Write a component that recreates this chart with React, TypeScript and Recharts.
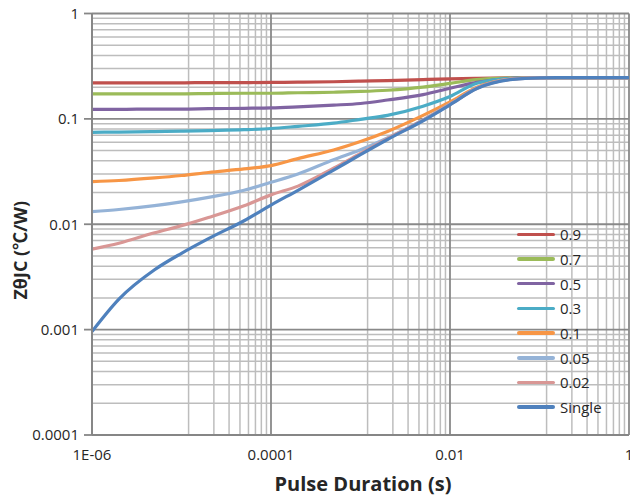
import React from "react";
import { LineChart, Line, XAxis, YAxis, CartesianGrid, Legend } from "recharts";

const durations = [1e-6, 2e-6, 5e-6, 1e-5, 2e-5, 5e-5, 1e-4, 2e-4, 5e-4, 1e-3, 2e-3, 5e-3, 1e-2, 2e-2, 5e-2, 0.1, 0.2, 0.5, 1];

const duty09 = [0.22, 0.22, 0.22, 0.22, 0.221, 0.221, 0.222, 0.223, 0.225, 0.228, 0.231, 0.236, 0.24, 0.243, 0.245, 0.246, 0.246, 0.246, 0.246];
const duty07 = [0.173, 0.173, 0.173, 0.173, 0.174, 0.175, 0.175, 0.177, 0.179, 0.182, 0.187, 0.2, 0.217, 0.236, 0.244, 0.246, 0.246, 0.246, 0.246];
const duty05 = [0.123, 0.123, 0.124, 0.124, 0.125, 0.126, 0.127, 0.13, 0.135, 0.14, 0.151, 0.17, 0.195, 0.222, 0.242, 0.246, 0.246, 0.246, 0.246];
const duty03 = [0.0746, 0.075, 0.0758, 0.0765, 0.0775, 0.079, 0.081, 0.085, 0.091, 0.099, 0.108, 0.132, 0.163, 0.218, 0.243, 0.246, 0.246, 0.246, 0.246];
const duty01 = [0.0254, 0.026, 0.0275, 0.029, 0.031, 0.0335, 0.036, 0.042, 0.0507, 0.061, 0.076, 0.108, 0.145, 0.2, 0.24, 0.246, 0.246, 0.246, 0.246];
const duty005 = [0.0132, 0.0138, 0.015, 0.0163, 0.018, 0.021, 0.025, 0.03, 0.041, 0.051, 0.066, 0.098, 0.138, 0.196, 0.238, 0.245, 0.246, 0.246, 0.246];
const duty002 = [0.0058, 0.0066, 0.0083, 0.0097, 0.0116, 0.015, 0.019, 0.023, 0.034, 0.047, 0.065, 0.097, 0.137, 0.195, 0.238, 0.245, 0.246, 0.246, 0.246];
const single = [0.00096, 0.00195, 0.0037, 0.0053, 0.0073, 0.0108, 0.0152, 0.021, 0.0326, 0.0458, 0.0637, 0.096, 0.136, 0.194, 0.237, 0.245, 0.246, 0.246, 0.246];

const seriesKeys = ["d09", "d07", "d05", "d03", "d01", "d005", "d002", "single"];
const seriesNames = ["0.9", "0.7", "0.5", "0.3", "0.1", "0.05", "0.02", "Single"];
const seriesColors = ["#C0504D", "#9BBB59", "#8064A2", "#4BACC6", "#F79646", "#95B3D7", "#D99795", "#4F81BD"];
const seriesValues = [duty09, duty07, duty05, duty03, duty01, duty005, duty002, single];

const xTicks = [1e-6, 1e-4, 1e-2, 1];
const yTicks = [1e-4, 1e-3, 1e-2, 1e-1, 1];

// excel style minor grid: log axis base 100 on x, base 10 on y
const xMinor = [1e-6, 1e-4, 1e-2].flatMap((b) => [12, 23, 34, 45, 56, 67, 78, 89].map((m) => b * m));
const yMinor = [1e-4, 1e-3, 1e-2, 1e-1].flatMap((b) => [2, 3, 4, 5, 6, 7, 8, 9].map((m) => b * m));

const data = durations.map((t, i) => {
  const row: Record<string, number> = { t };
  seriesKeys.forEach((k, s) => {
    row[k] = seriesValues[s][i];
  });
  return row;
});

const font = "'Open Sans', 'Noto Sans CJK SC', sans-serif";
const axisColor = "#868686";
const textColor = "#262626";

const fmtX = (v: number) => (v === 1e-6 ? "1E-06" : String(v));

const YTitle = (props: any) => {
  const vb = props.viewBox || { x: 0, y: 13.5, width: 92, height: 421.5 };
  const cx = vb.x + 20;
  const cy = vb.y + vb.height / 2 + 26;
  return (
    <text
      x={cx}
      y={cy}
      transform={`rotate(-90 ${cx} ${cy})`}
      textAnchor="middle"
      dominantBaseline="central"
      fontFamily={font}
      fontWeight={700}
      fontSize={18}
      fill={textColor}
    >
      ZθJC (℃/W)
    </text>
  );
};

const XTitle = (props: any) => {
  const vb = props.viewBox || { x: 92, y: 435, width: 537, height: 62 };
  return (
    <text
      x={vb.x + vb.width / 2 + 2.5}
      y={vb.y + 48}
      textAnchor="middle"
      dominantBaseline="central"
      fontFamily={font}
      fontWeight={700}
      fontSize={20}
      fill={textColor}
    >
      Pulse Duration (s)
    </text>
  );
};

const renderLegend = (props: any) => {
  const items = [...(props.payload || [])].sort(
    (a: any, b: any) => seriesNames.indexOf(a.value) - seriesNames.indexOf(b.value)
  );
  return (
    <div style={{ fontFamily: font, fontSize: 15, color: textColor }}>
      {items.map((p: any) => (
        <div key={p.value} style={{ display: "flex", alignItems: "center", height: 24.7 }}>
          <span style={{ display: "inline-block", width: 38, height: 3.5, background: p.color, marginRight: 5, borderRadius: 2 }} />
          <span>{p.value}</span>
        </div>
      ))}
    </div>
  );
};

export default function App() {
  return (
    <div style={{ position: "absolute", left: 0, top: 0, width: 630, height: 497, background: "#fff" }}>
      <LineChart width={630} height={497} data={data} margin={{ top: 13.5, right: 1, left: 0, bottom: 0 }}>
        <CartesianGrid horizontalValues={yMinor} verticalValues={xMinor} stroke="#bdbdbd" strokeWidth={1.5} />
        <CartesianGrid horizontalValues={yTicks} verticalValues={xTicks} stroke="#898989" strokeWidth={1.8} />
        <XAxis
          dataKey="t"
          type="number"
          scale="log"
          domain={[1e-6, 1]}
          allowDataOverflow
          ticks={xTicks}
          interval={0}
          tickFormatter={fmtX}
          height={62}
          tickLine={false}
          tickSize={0}
          tickMargin={14}
          axisLine={{ stroke: axisColor, strokeWidth: 1.8 }}
          tick={{ fill: textColor, fontSize: 15, fontFamily: font }}
          label={<XTitle />}
        />
        <YAxis
          type="number"
          scale="log"
          domain={[1e-4, 1]}
          allowDataOverflow
          ticks={yTicks}
          interval={0}
          tickFormatter={(v: number) => String(v)}
          width={92}
          tickSize={8}
          tickMargin={5}
          axisLine={{ stroke: axisColor, strokeWidth: 1.8 }}
          tickLine={{ stroke: axisColor, strokeWidth: 1.8 }}
          tick={{ fill: textColor, fontSize: 15, fontFamily: font }}
          label={<YTitle />}
        />
        <Legend
          layout="vertical"
          align="center"
          verticalAlign="middle"
          content={renderLegend}
          wrapperStyle={{ left: 517, top: 222, width: 110 }}
        />
        {seriesKeys.map((k, i) => (
          <Line
            key={k}
            dataKey={k}
            name={seriesNames[i]}
            type="monotone"
            stroke={seriesColors[i]}
            strokeWidth={3.2}
            dot={false}
            activeDot={false}
            isAnimationActive={false}
          />
        ))}
      </LineChart>
    </div>
  );
}
